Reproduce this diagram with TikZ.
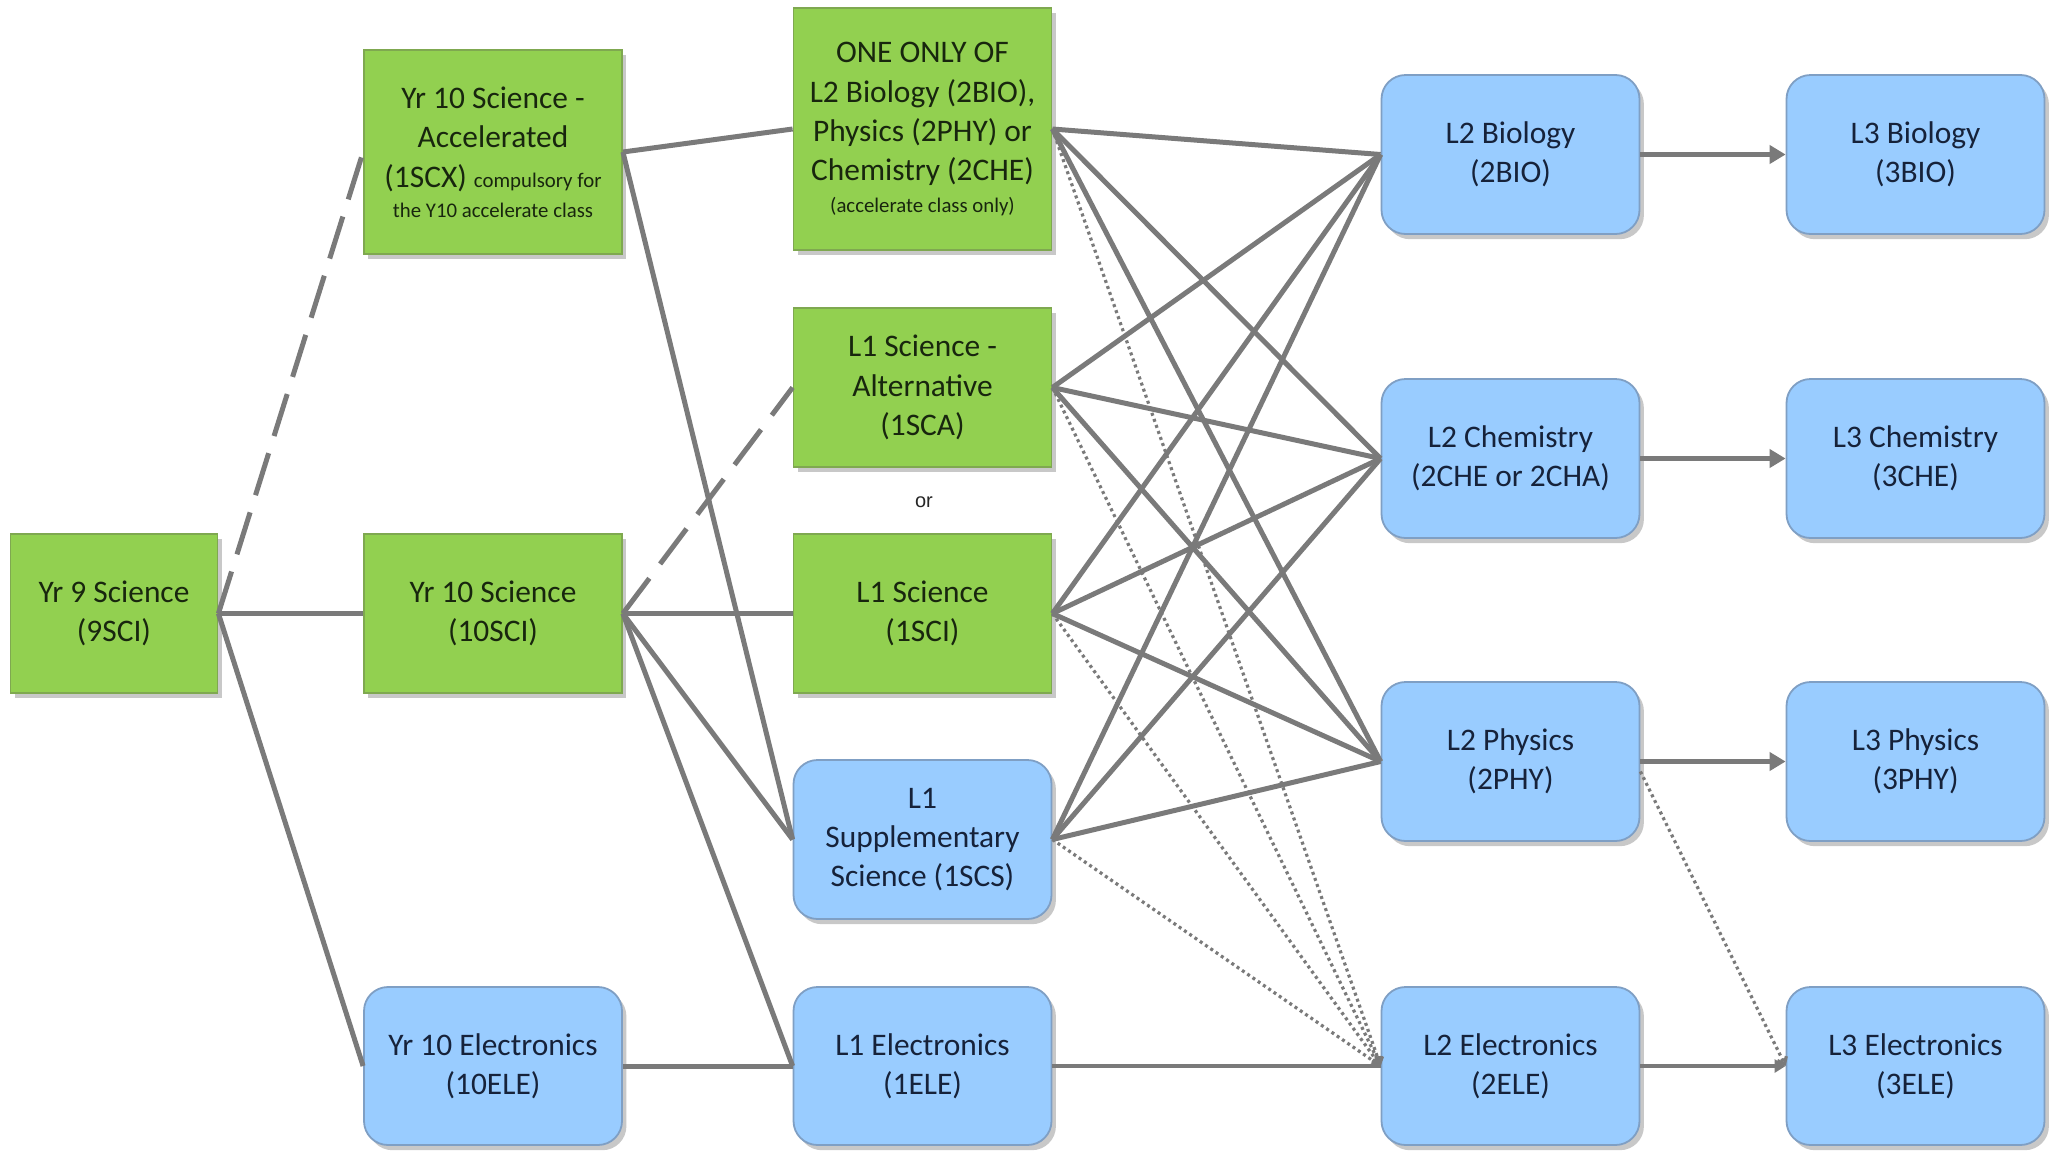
\documentclass[tikz,border=0pt]{standalone}
\usepackage{fontspec}
\setmainfont{Carlito}
\newfontfamily\arialfont{Liberation Sans}
\usetikzlibrary{arrows.meta,shadows}
\definecolor{gfill}{HTML}{92D050}
\definecolor{gdraw}{HTML}{7FA850}
\definecolor{bfill}{HTML}{99CCFF}
\definecolor{bdraw}{HTML}{7F9FC4}
\definecolor{gtext}{HTML}{18260E}
\definecolor{btext}{HTML}{16223A}
\definecolor{lcol}{HTML}{7A7A7A}
\newcommand{\smalltxt}{\fontsize{10.4}{12.5}\selectfont}
\tikzset{
  base/.style={inner sep=0pt, align=center, line width=0.9pt,
    font=\fontsize{15.7}{19.7}\selectfont,
    drop shadow={shadow xshift=2.2pt, shadow yshift=-2.6pt, fill=black!30, opacity=0.7}},
  gbox/.style={base, rectangle, fill=gfill, draw=gdraw, text=gtext},
  bbox/.style={base, rectangle, rounded corners=12pt, fill=bfill, draw=bdraw, text=btext},
  colA/.style={minimum width=103.5pt},
  colB/.style={minimum width=129pt},
  rowh/.style={minimum height=79.5pt},
  link/.style={draw=lcol, line width=2.5pt},
  dlink/.style={draw=lcol, line width=2.5pt, dash pattern=on 22pt off 9pt},
  tlink/.style={draw=lcol, line width=1.7pt},
  olink/.style={draw=lcol, line width=1.6pt, dash pattern=on 1.5pt off 1.7pt},
  arr/.style={-{Triangle[length=8pt,width=9pt]}},
  sarr/.style={-{Triangle[length=5.5pt,width=6.5pt]}},
  barb/.style={-{Straight Barb[length=3pt,width=5pt]}}
}
\begin{document}
\begin{tikzpicture}[x=0.5pt,y=-0.5pt]
\useasboundingbox[fill=white] (0,0) rectangle (2061,1152);
% column 1
\node[gbox,colA,rowh] (y9) at (114,613.5) {Yr 9 Science\\(9SCI)};
% column 2
\node[gbox,colB,minimum height=102pt] (acc) at (493,152) {Yr 10 Science -\\Accelerated\\(1SCX) {\smalltxt compulsory for}\\[-4.7pt]{\smalltxt the Y10 accelerate class}};
\node[gbox,colB,rowh] (y10) at (493,613.5) {Yr 10 Science\\(10SCI)};
\node[bbox,colB,minimum height=79pt] (y10e) at (493,1066) {Yr 10 Electronics\\(10ELE)};
% column 3
\node[gbox,colB,minimum height=121pt] (one) at (922.5,129) {ONE ONLY OF\\L2 Biology (2BIO),\\Physics (2PHY) or\\Chemistry (2CHE)\\[-4pt]{\smalltxt (accelerate class only)}};
\node[gbox,colB,rowh] (alt) at (922.5,387.5) {L1 Science -\\Alternative\\(1SCA)};
\node[inner sep=0pt, font=\arialfont\fontsize{10}{12}\selectfont, text=black!85] (or) at (924,502) {or};
\node[gbox,colB,rowh] (l1s) at (922.5,613.5) {L1 Science\\(1SCI)};
\node[bbox,colB,rowh] (sup) at (922.5,839.5) {L1\\Supplementary\\Science (1SCS)};
\node[bbox,colB,minimum height=79pt] (l1e) at (922.5,1066) {L1 Electronics\\(1ELE)};
% column 4
\node[bbox,colB,rowh] (bio2) at (1510.5,154.5) {L2 Biology\\(2BIO)};
\node[bbox,colB,rowh] (che2) at (1510.5,458.5) {L2 Chemistry\\(2CHE or 2CHA)};
\node[bbox,colB,rowh] (phy2) at (1510.5,761.5) {L2 Physics\\(2PHY)};
\node[bbox,colB,minimum height=79pt] (ele2) at (1510.5,1066) {L2 Electronics\\(2ELE)};
% column 5
\node[bbox,colB,rowh] (bio3) at (1915.5,154.5) {L3 Biology\\(3BIO)};
\node[bbox,colB,rowh] (che3) at (1915.5,458.5) {L3 Chemistry\\(3CHE)};
\node[bbox,colB,rowh] (phy3) at (1915.5,761.5) {L3 Physics\\(3PHY)};
\node[bbox,colB,minimum height=79pt] (ele3) at (1915.5,1066) {L3 Electronics\\(3ELE)};
% connectors: column 1 -> 2
\draw[dlink] (y9.east) -- (acc.west);
\draw[link] (y9.east) -- (y10.west);
\draw[link] (y9.east) -- (y10e.west);
% column 2 -> 3
\draw[link] (acc.east) -- (one.west);
\draw[link] (acc.east) -- (sup.west);
\draw[dlink] (y10.east) -- (alt.west);
\draw[link] (y10.east) -- (l1s.west);
\draw[link] (y10.east) -- (sup.west);
\draw[link] (y10.east) -- (l1e.west);
\draw[link] (y10e.east) -- (l1e.west);
% column 3 -> 4
\foreach \s in {one,alt,l1s,sup}{
  \draw[link] (\s.east) -- (bio2.west);
  \draw[link] (\s.east) -- (che2.west);
  \draw[link] (\s.east) -- (phy2.west);
  \draw[olink,barb] (\s.east) -- (ele2.west);
}
\draw[tlink] (l1e.east) -- (ele2.west);
% column 4 -> 5
\draw[link,arr] (bio2.east) -- (bio3.west);
\draw[link,arr] (che2.east) -- (che3.west);
\draw[link,arr] (phy2.east) -- (phy3.west);
\draw[tlink,sarr] (ele2.east) -- (ele3.west);
\draw[olink,barb] ([yshift=-5pt]phy2.east) -- (ele3.west);
\end{tikzpicture}
\end{document}
